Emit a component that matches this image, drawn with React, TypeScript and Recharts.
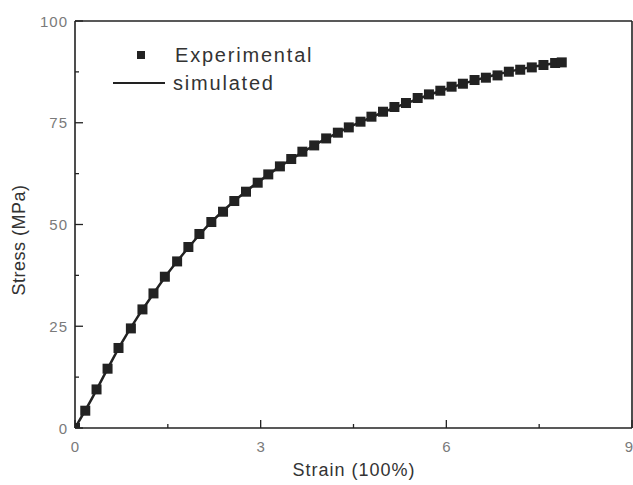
import React from "react";
import { ComposedChart, Line, Scatter, XAxis, YAxis, ReferenceLine } from "recharts";

// Experimental points (strain in 100%, stress in MPa)
const expStrain = [0, 0.166, 0.348, 0.526, 0.703, 0.903, 1.09, 1.268, 1.452, 1.65, 1.832, 2.01, 2.203, 2.392, 2.574, 2.763, 2.952, 3.123, 3.311, 3.494, 3.674, 3.865, 4.058, 4.247, 4.424, 4.613, 4.79, 4.977, 5.161, 5.348, 5.537, 5.719, 5.903, 6.085, 6.268, 6.456, 6.639, 6.827, 7.01, 7.194, 7.381, 7.569, 7.758, 7.865];
const expStress = [0, 4.25, 9.48, 14.57, 19.66, 24.47, 29.14, 33.07, 37.17, 40.93, 44.47, 47.67, 50.61, 53.14, 55.77, 58.06, 60.27, 62.31, 64.28, 66.09, 67.89, 69.43, 71.15, 72.56, 73.86, 75.26, 76.49, 77.71, 78.87, 79.85, 81.08, 81.97, 82.87, 83.86, 84.59, 85.5, 86.07, 86.63, 87.54, 88.03, 88.6, 89.19, 89.68, 89.83];

// Simulated curve
const simStrain = [0, 0.25, 0.5, 0.75, 1.0, 1.25, 1.5, 1.75, 2.0, 2.25, 2.5, 2.75, 3.0, 3.25, 3.5, 3.75, 4.0, 4.25, 4.5, 4.75, 5.0, 5.25, 5.5, 5.75, 6.0, 6.25, 6.5, 6.75, 7.0, 7.25, 7.5, 7.75, 7.86];
const simStress = [0, 6.6, 13.8, 20.8, 27.0, 32.6, 38.0, 42.8, 47.3, 51.3, 54.8, 58.0, 60.9, 63.6, 66.1, 68.4, 70.6, 72.6, 74.4, 76.1, 77.7, 79.2, 80.6, 82.0, 83.3, 84.5, 85.6, 86.6, 87.5, 88.3, 89.0, 89.6, 89.9];

const xTicks = [0, 1.5, 3, 4.5, 6, 7.5, 9];
const xMajor = [0, 3, 6, 9];
const yTicks = [0, 12.5, 25, 37.5, 50, 62.5, 75, 87.5, 100];
const yMajor = [0, 25, 50, 75, 100];

const expData = expStrain.map((x, i) => ({ x, y: expStress[i] }));
const simData = simStrain.map((x, i) => ({ x, y: simStress[i] }));

const W = 633;
const H = 485;
const AXIS_X = 75;
const AXIS_Y = 428;
const INK = "#222";
const FONT = "'Liberation Sans', Arial, sans-serif";

const YTick = (props: any) => {
  const { y, payload } = props;
  const major = yMajor.includes(payload.value);
  return (
    <g>
      <line x1={AXIS_X} x2={AXIS_X + (major ? 8 : 4)} y1={y} y2={y} stroke={INK} strokeWidth={1.3} />
      {major && (
        <text x={AXIS_X - 7} y={y} textAnchor="end" dominantBaseline="central" fontSize={15} fill="#7a7a7a" fontFamily={FONT} letterSpacing={1}>
          {payload.value}
        </text>
      )}
    </g>
  );
};

const XTick = (props: any) => {
  const { x, payload } = props;
  const major = xMajor.includes(payload.value);
  const last = payload.value === 9;
  return (
    <g>
      <line x1={x} x2={x} y1={AXIS_Y} y2={AXIS_Y - (major ? 8 : 4)} stroke={INK} strokeWidth={1.3} />
      {major && (
        <text x={last ? x + 1 : x} y={446} textAnchor={last ? "end" : "middle"} dominantBaseline="central" fontSize={15} fill="#7a7a7a" fontFamily={FONT}>
          {payload.value}
        </text>
      )}
    </g>
  );
};

const SquareShape = (props: any) => {
  const { cx, cy } = props;
  return <rect x={cx - 5} y={cy - 5} width={10} height={10} fill={INK} />;
};

export default function App() {
  return (
    <div style={{ position: "absolute", left: 0, top: 0, width: W, height: H, background: "#fff" }}>
      <ComposedChart width={W} height={H} margin={{ top: 21, right: 1, bottom: 0, left: 0 }}>
        <XAxis
          type="number"
          dataKey="x"
          domain={[0, 9]}
          ticks={xTicks}
          height={57}
          axisLine={{ stroke: INK, strokeWidth: 1.6 }}
          tickLine={false}
          tick={<XTick />}
          interval={0}
          allowDataOverflow
        />
        <YAxis
          type="number"
          dataKey="y"
          domain={[0, 100]}
          ticks={yTicks}
          width={75}
          axisLine={{ stroke: INK, strokeWidth: 1.6 }}
          tickLine={false}
          tick={<YTick />}
          interval={0}
          allowDataOverflow
        />
        <ReferenceLine y={100} stroke={INK} strokeWidth={1.6} />
        <ReferenceLine x={9} stroke={INK} strokeWidth={1.6} />
        <Line
          data={simData}
          dataKey="y"
          name="simulated"
          type="monotone"
          stroke={INK}
          strokeWidth={2.5}
          dot={false}
          isAnimationActive={false}
        />
        <Scatter data={expData} dataKey="y" name="Experimental" fill={INK} shape={<SquareShape />} isAnimationActive={false} />
      </ComposedChart>
      <svg width={240} height={60} style={{ position: "absolute", left: 100, top: 40, overflow: "visible" }}>
        <rect x={37} y={11} width={8} height={8} fill={INK} />
        <text x={75} y={15} dominantBaseline="central" fontSize={20} fill="#333" fontFamily={FONT} letterSpacing={1.8}>
          Experimental
        </text>
        <line x1={13} x2={65} y1={43} y2={43} stroke={INK} strokeWidth={2} />
        <text x={73} y={43} dominantBaseline="central" fontSize={20} fill="#333" fontFamily={FONT} letterSpacing={1.8}>
          simulated
        </text>
      </svg>
      <div
        style={{
          position: "absolute",
          left: 19,
          top: 240,
          transform: "translate(-50%, -50%) rotate(-90deg)",
          fontSize: 18,
          color: "#333",
          fontFamily: FONT,
          whiteSpace: "nowrap",
          letterSpacing: 0.5,
        }}
      >
        Stress (MPa)
      </div>
      <div
        style={{
          position: "absolute",
          left: 354,
          top: 470,
          transform: "translate(-50%, -50%)",
          fontSize: 18,
          color: "#333",
          fontFamily: FONT,
          whiteSpace: "nowrap",
          letterSpacing: 1,
        }}
      >
        Strain (100%)
      </div>
    </div>
  );
}
